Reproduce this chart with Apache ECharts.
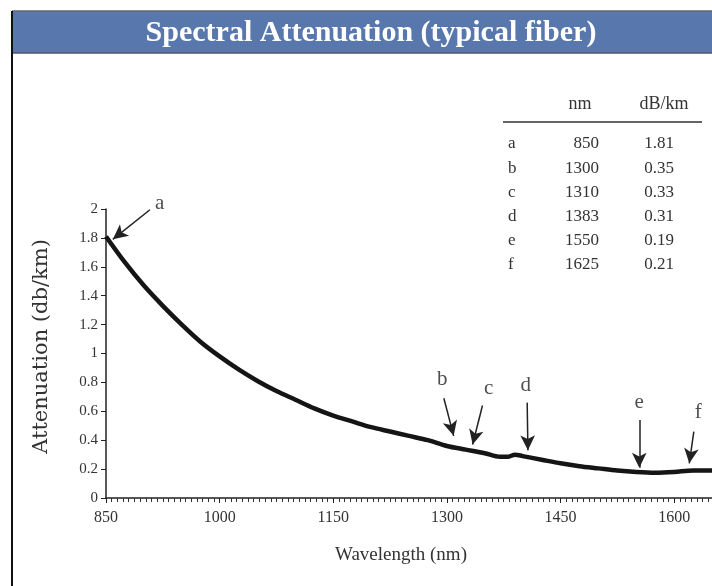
<!DOCTYPE html>
<html>
<head>
<meta charset="utf-8">
<script src="https://cdn.jsdelivr.net/npm/echarts@6/dist/echarts.min.js"></script>
<style>html,body{margin:0;padding:0;background:#fff}#c{width:712px;height:586px}</style>
</head>
<body>
<div id="c"></div>
<script>
// ---- data ----
const wavelengths = [850, 875, 900, 925, 950, 975, 1000, 1025, 1050, 1075, 1100, 1125, 1150, 1175, 1200, 1225, 1250, 1275, 1300, 1325, 1350, 1370, 1380, 1390, 1400, 1425, 1450, 1475, 1500, 1525, 1550, 1575, 1600, 1625, 1650];
const attenuation = [1.81, 1.63, 1.47, 1.33, 1.20, 1.08, 0.98, 0.89, 0.81, 0.74, 0.68, 0.62, 0.57, 0.53, 0.49, 0.46, 0.43, 0.40, 0.36, 0.335, 0.31, 0.285, 0.285, 0.30, 0.29, 0.265, 0.24, 0.22, 0.205, 0.19, 0.18, 0.175, 0.18, 0.19, 0.19];
const tableLetters = ['a', 'b', 'c', 'd', 'e', 'f'];
const tableNm = ['850', '1300', '1310', '1383', '1550', '1625'];
const tableDb = ['1.81', '0.35', '0.33', '0.31', '0.19', '0.21'];
// annotation anchors in data space: label point, arrow start, arrow tip
const annoLabel = [[921, 2.04], [1294, 0.82], [1355, 0.76], [1404, 0.78], [1554, 0.66], [1632, 0.59]];
const arrowFrom = [[908, 1.995], [1296, 0.69], [1347, 0.64], [1406, 0.66], [1554, 0.54], [1626, 0.46]];
const arrowTo = [[859, 1.79], [1309, 0.43], [1334, 0.37], [1407, 0.33], [1554, 0.21], [1620, 0.24]];

const serif = '"Liberation Serif", "DejaVu Serif", serif';
const wideSerif = '"DejaVu Serif", "Liberation Serif", serif';
const chart = echarts.init(document.getElementById('c'));

const tableGraphics = [];
const rowTop = 144, rowStep = 24.2;
const tFont = '17px ' + serif;
tableGraphics.push({type: 'text', x: 580, y: 104, style: {text: 'nm', font: '18px ' + serif, fill: '#333', textVerticalAlign: 'middle', textAlign: 'center'}});
tableGraphics.push({type: 'text', x: 664, y: 104, style: {text: 'dB/km', font: '18px ' + serif, fill: '#333', textVerticalAlign: 'middle', textAlign: 'center'}});
tableGraphics.push({type: 'line', shape: {x1: 503, y1: 122, x2: 702, y2: 122}, style: {stroke: '#333', lineWidth: 1.5}});
tableLetters.forEach((l, i) => {
  const y = rowTop + i * rowStep;
  tableGraphics.push({type: 'text', x: 508, y: y, style: {text: l, font: tFont, fill: '#333', textVerticalAlign: 'middle', textAlign: 'left'}});
  tableGraphics.push({type: 'text', x: 599, y: y, style: {text: tableNm[i], font: tFont, fill: '#333', textVerticalAlign: 'middle', textAlign: 'right'}});
  tableGraphics.push({type: 'text', x: 659, y: y, style: {text: tableDb[i], font: tFont, fill: '#333', textVerticalAlign: 'middle', textAlign: 'center'}});
});

const option = {
  animation: false,
  backgroundColor: '#fff',
  title: {
    text: 'Spectral Attenuation (typical fiber)',
    left: 366, top: 13, textAlign: 'center',
    textStyle: {color: '#fff', fontFamily: serif, fontWeight: 'bold', fontSize: 30}
  },
  graphic: [
    {type: 'rect', z: -1, shape: {x: 12, y: 11, width: 700, height: 42}, style: {fill: '#5877ac'}},
    {type: 'line', shape: {x1: 12, y1: 11, x2: 712, y2: 11}, style: {stroke: '#666', lineWidth: 1.5}},
    {type: 'line', shape: {x1: 12, y1: 53, x2: 712, y2: 53}, style: {stroke: '#556', lineWidth: 1.5}},
    {type: 'line', shape: {x1: 12, y1: 11, x2: 12, y2: 586}, style: {stroke: '#111', lineWidth: 2}}
  ].concat(tableGraphics),
  grid: {left: 106, right: 0, top: 209, bottom: 88},
  xAxis: {
    type: 'value', min: 850, max: 1650, interval: 150,
    name: 'Wavelength (nm)', nameLocation: 'middle', nameGap: 48,
    nameTextStyle: {fontFamily: serif, fontSize: 19, color: '#333', padding: [0, 16, 0, 0]},
    axisLine: {lineStyle: {color: '#222', width: 1.5}},
    axisTick: {show: true, length: 5, lineStyle: {color: '#222'}},
    minorTick: {show: true, splitNumber: 20, length: 4, lineStyle: {color: '#333'}},
    axisLabel: {fontFamily: serif, fontSize: 16, color: '#333', margin: 12, showMaxLabel: false,
      formatter: v => String(v)},
    splitLine: {show: false}
  },
  yAxis: {
    type: 'value', min: 0, max: 2, interval: 0.2,
    name: 'Attenuation (db/km)', nameLocation: 'middle', nameGap: 54,
    nameTextStyle: {fontFamily: wideSerif, fontSize: 21, color: '#333', padding: [0, 0, 0, 14]},
    axisLine: {show: true, lineStyle: {color: '#222', width: 1.5}},
    axisTick: {show: true, length: 5, lineStyle: {color: '#222'}},
    axisLabel: {fontFamily: serif, fontSize: 15, color: '#333', margin: 8},
    splitLine: {show: false}
  },
  series: [
    {
      type: 'line', smooth: 0.3, showSymbol: false,
      data: wavelengths.map((w, i) => [w, attenuation[i]]),
      lineStyle: {color: '#151515', width: 4.5},
      markLine: {
        silent: true, animation: false,
        symbol: ['none', 'arrow'], symbolSize: [11, 15],
        lineStyle: {color: '#222', width: 1.5, type: 'solid'},
        label: {show: false},
        data: arrowFrom.map((f, i) => [{coord: f}, {coord: arrowTo[i]}])
      }
    },
    {
      type: 'scatter', symbolSize: 0, silent: true, clip: false,
      data: annoLabel.map((p, i) => ({value: p, name: tableLetters[i]})),
      label: {show: true, position: 'inside', formatter: p => p.name,
        fontFamily: serif, fontSize: 21, color: '#222'}
    }
  ]
};
chart.setOption(option);
</script>
</body>
</html>
